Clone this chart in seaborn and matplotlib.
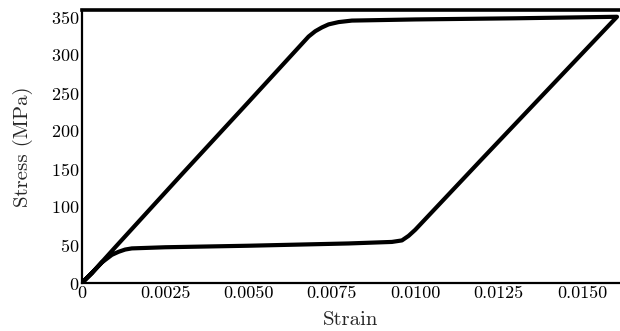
import matplotlib
matplotlib.use("Agg")
import matplotlib.pyplot as plt
import seaborn as sns
import pandas as pd

# Loading branch (strain, stress in MPa)
load_strain = [0.0, 0.0003, 0.0010, 0.0030, 0.0050, 0.0068, 0.0070, 0.0072, 0.0074, 0.0077, 0.0081, 0.0100, 0.0130, 0.01605]
load_stress = [0.0, 13, 47, 143, 238, 324, 331, 336, 340, 343, 345, 346.5, 348, 350]

# Unloading branch
unload_strain = [0.01605, 0.0120, 0.0100, 0.0098, 0.0096, 0.0093, 0.0080, 0.0050, 0.0025, 0.0015, 0.0013, 0.0011, 0.0009, 0.0006, 0.0003, 0.0]
unload_stress = [350, 163, 70, 62, 56, 54, 52, 49, 47, 45.5, 44, 41, 37, 27, 13, 0.0]

x_ticks = [0, 0.0025, 0.0050, 0.0075, 0.0100, 0.0125, 0.0150]
x_tick_labels = ["0", "0.0025", "0.0050", "0.0075", "0.0100", "0.0125", "0.0150"]
y_ticks = [0, 50, 100, 150, 200, 250, 300, 350]

df = pd.DataFrame({
    "strain": load_strain + unload_strain,
    "stress": load_stress + unload_stress,
})

sns.set_style("white")
plt.rcParams["font.family"] = ["serif"]
plt.rcParams["font.serif"] = ["cmr10", "DejaVu Serif"]
plt.rcParams["mathtext.fontset"] = "cm"
plt.rcParams["axes.formatter.use_mathtext"] = True

fig = plt.figure(figsize=(6.2, 3.31), dpi=100)
ax = fig.add_axes([0.132, 0.145, 0.868, 0.825])

sns.lineplot(data=df, x="strain", y="stress", sort=False, estimator=None,
             color="black", linewidth=3.0, ax=ax, solid_capstyle="round",
             solid_joinstyle="round")

ax.set_xlim(0, 0.01614)
ax.set_ylim(0, 359)
ax.set_xticks(x_ticks)
ax.set_xticklabels(x_tick_labels)
ax.set_yticks(y_ticks)
ax.tick_params(direction="in", length=3, width=0.8, labelsize=13, colors="black", pad=2)
ax.set_xlabel("Strain", fontsize=15, labelpad=7)
ax.set_ylabel("Stress (MPa)", fontsize=15, labelpad=13)

for side in ["left", "bottom"]:
    ax.spines[side].set_linewidth(1.6)
    ax.spines[side].set_color("black")
ax.spines["top"].set_linewidth(2.6)
ax.spines["top"].set_color("black")
ax.spines["right"].set_visible(False)

fig.savefig("out.png", dpi=100)
